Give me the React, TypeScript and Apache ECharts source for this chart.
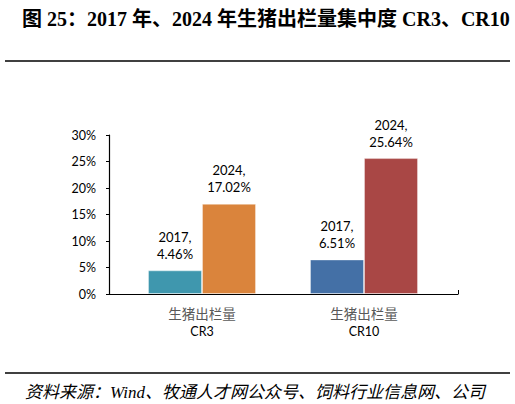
import React, { useEffect, useRef } from "react";
import * as echarts from "echarts";

const categories = ["CR3", "CR10"];
const categoryPrefix = "生猪出栏量";
const seriesNames = ["2017", "2024"];
const values2017 = [4.46, 6.51];
const values2024 = [17.02, 25.64];
const colors2017 = ["#3F97AE", "#4470A6"];
const colors2024 = ["#DA843C", "#A94745"];
const yMin = 0;
const yMax = 30;
const yInterval = 5;
const titleText = "图 25：2017 年、2024 年生猪出栏量集中度 CR3、CR10";
const sourceText = "资料来源：Wind、牧通人才网公众号、饲料行业信息网、公司";

const labelFont = "Lato, 'Liberation Sans', sans-serif";

export default function App() {
  const ref = useRef<HTMLDivElement>(null);
  useEffect(() => {
    document.body.style.margin = "0";
    if (!ref.current) return;
    const chart = echarts.init(ref.current, null, { renderer: "svg" });
    const makeSeries = (name: string, vals: number[], cols: string[]) => ({
      name,
      type: "bar",
      xAxisIndex: 1,
      yAxisIndex: 1,
      barWidth: 54,
      barGap: "0%",
      data: vals.map((v, i) => ({
        value: v,
        itemStyle: { color: cols[i], borderColor: "rgba(255,255,255,0.35)", borderWidth: 1 },
      })),
      label: {
        show: true,
        position: "top",
        distance: 8,
        color: "#000",
        fontFamily: labelFont,
        fontSize: 13,
        lineHeight: 17,
        formatter: (p: any) => `${p.seriesName},\n${Number(p.value).toFixed(2)}%`,
      },
    });
    chart.setOption({
      animation: false,
      backgroundColor: "#fff",
      title: [
        {
          text: titleText,
          left: 17,
          top: 4,
          textStyle: {
            fontSize: 20,
            fontWeight: "bold",
            color: "#000",
            fontFamily: "'Liberation Serif', 'Noto Sans CJK SC', serif",
          },
        },
        {
          text: sourceText,
          left: 20,
          top: 379,
          textStyle: {
            fontSize: 17,
            fontWeight: "normal",
            fontStyle: "italic",
            color: "#000",
            fontFamily: "'Liberation Serif', 'Noto Sans CJK SC', serif",
          },
        },
      ],
      graphic: [
        { type: "line", shape: { x1: 5, y1: 61, x2: 510, y2: 61 }, style: { stroke: "#000", lineWidth: 1.5 } },
        { type: "line", shape: { x1: 5, y1: 373, x2: 510, y2: 373 }, style: { stroke: "#000", lineWidth: 1.5 } },
      ],
      grid: [
        { left: 109, right: 57, top: 135, bottom: 110, containLabel: false },
        { left: 121, right: 70, top: 135, bottom: 110, containLabel: false },
      ],
      xAxis: [
        {
          gridIndex: 0,
          type: "value",
          min: 0,
          max: 1,
          interval: 1,
          axisLine: { show: true, lineStyle: { color: "#000", width: 1.2 } },
          axisTick: { show: true, inside: true, length: 4, lineStyle: { color: "#000" } },
          axisLabel: { show: false },
          splitLine: { show: false },
        },
        {
          gridIndex: 1,
          type: "category",
          data: categories,
          axisLine: { show: false },
          axisTick: { show: false },
          axisLabel: {
            margin: 9,
            formatter: (v: string) => `{a|${categoryPrefix}}\n{b|${v}}`,
            rich: {
              a: { fontSize: 13.5, color: "#595959", fontFamily: "'Noto Sans CJK SC', sans-serif", lineHeight: 19 },
              b: { fontSize: 12.5, color: "#000", fontFamily: labelFont, lineHeight: 19 },
            },
          },
        },
      ],
      yAxis: [
        {
          gridIndex: 0,
          type: "value",
          min: yMin,
          max: yMax,
          interval: yInterval,
          axisLine: { show: true, lineStyle: { color: "#000", width: 1.2 } },
          axisTick: { show: true, length: 3, lineStyle: { color: "#000" } },
          splitLine: { show: false },
          axisLabel: {
            margin: 13,
            color: "#000",
            fontSize: 12.5,
            fontFamily: labelFont,
            formatter: (v: number) => `${v}%`,
          },
        },
        {
          gridIndex: 1,
          type: "value",
          min: yMin,
          max: yMax,
          interval: yInterval,
          show: false,
        },
      ],
      series: [
        makeSeries(seriesNames[0], values2017, colors2017),
        makeSeries(seriesNames[1], values2024, colors2024),
      ],
    });
    return () => chart.dispose();
  }, []);
  return <div ref={ref} style={{ width: 515, height: 404 }} />;
}
